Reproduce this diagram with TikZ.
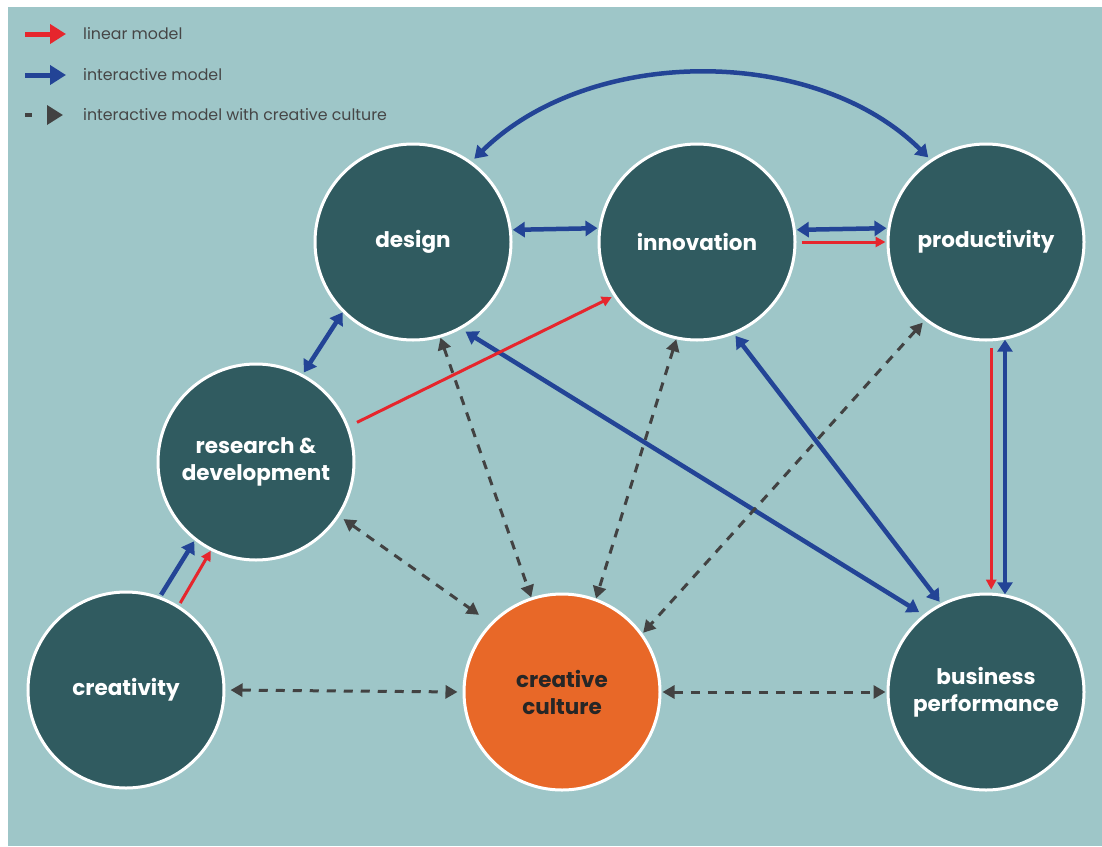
\documentclass[tikz,border=0pt]{standalone}
\usepackage{fontspec}
\setmainfont{Poppins}
\usetikzlibrary{arrows.meta}
\definecolor{bgC}{RGB}{158,198,200}
\definecolor{tealC}{RGB}{48,91,96}
\definecolor{orangeC}{RGB}{232,104,40}
\definecolor{blueC}{RGB}{35,68,150}
\definecolor{redC}{RGB}{230,38,45}
\definecolor{grayC}{RGB}{66,66,66}
\definecolor{legtxt}{RGB}{70,70,70}
\begin{document}
\begin{tikzpicture}[x=1pt,y=-1pt,
  bubble/.style={circle,fill=tealC,draw=white,line width=3pt,minimum size=196pt,inner sep=0pt,
     text=white,align=center,font=\bfseries\fontsize{21.5}{27}\selectfont},
  hotbubble/.style={bubble,fill=orangeC,text=black!85},
  bluearr/.style={draw=blueC,line width=4.5pt,{Triangle[length=12pt,width=15pt]}-{Triangle[length=12pt,width=15pt]}},
  bluearrone/.style={draw=blueC,line width=4.5pt,-{Triangle[length=12pt,width=15pt]}},
  redarr/.style={draw=redC,line width=3pt,-{Triangle[length=10pt,width=10pt]}},
  dasharr/.style={draw=grayC,line width=3pt,dash pattern=on 9pt off 8pt,
     {Triangle[length=12pt,width=13pt]}-{Triangle[length=12pt,width=13pt]}},
  legtext/.style={anchor=west,text=legtxt,font=\fontsize{15.8}{18}\selectfont,inner sep=0pt}
]
\useasboundingbox (0,0) rectangle (1102,846);
\fill[bgC] (8,7) rectangle (1102,846);

% legend
\coordinate (la1) at (25,34); \coordinate (lb1) at (66,34);
\coordinate (la2) at (25,75); \coordinate (lb2) at (66,75);
\coordinate (la3) at (25,115); \coordinate (lb3) at (63,115);
\draw[draw=redC,line width=5pt,-{Triangle[length=16pt,width=19pt]}] (la1) -- (lb1);
\draw[draw=blueC,line width=5pt,-{Triangle[length=16pt,width=19pt]}] (la2) -- (lb2);
\draw[draw=grayC,line width=3.5pt,dash pattern=on 7pt off 20pt,-{Triangle[length=16pt,width=19pt]}] (la3) -- (lb3);
\node[legtext] (t1) at (83,34) {linear model};
\node[legtext] (t2) at (83,75) {interactive model};
\node[legtext] (t3) at (83,115) {interactive model with creative culture};

% nodes
\node[bubble] (D) at (413,242) {design};
\node[bubble] (I) at (697,242) {innovation};
\node[bubble] (P) at (986,242) {productivity};
\node[bubble] (R) at (256,462) {research \&\\development};
\node[bubble] (C) at (126,690) {creativity};
\node[hotbubble] (CC) at (562,692) {creative\\culture};
\node[bubble] (B) at (986,692) {business\\performance};

% blue interactive
\draw[bluearr,shorten <=4pt,shorten >=3pt] (D.54) .. controls (590,45) and (815,45) .. (P.124);
\draw[bluearr,shorten <=1pt,shorten >=1pt] (D.7.5) -- (I.172.5);
\draw[bluearr,shorten <=1pt,shorten >=1pt] (I.7.5) -- (P.172.5);
\draw[bluearr,shorten <=2pt,shorten >=0pt] (R.62) -- (D.225);
\draw[bluearrone,shorten <=2pt,shorten >=1pt] (C.70.5) -- (R.232);
\draw[bluearr,shorten <=5pt,shorten >=5pt] (D.-61) -- (B.129);
\draw[bluearr,shorten <=2pt,shorten >=2pt] (I.-68) -- (B.117);
\draw[bluearr,shorten <=0pt,shorten >=0pt] (P.-79.3) -- (B.79.3);

% red linear
\draw[redarr,shorten <=5pt,shorten >=1pt] (I.0) -- (P.180);
\draw[redarr,shorten <=9pt,shorten >=2pt] (R.21) -- (I.213);
\draw[redarr,shorten <=3pt,shorten >=0pt] (C.58.5) -- (R.243.5);
\draw[redarr,shorten <=7pt,shorten >=3pt] (P.-87.8) -- (B.87.7);

% dashed
\draw[dasharr,shorten <=0pt,shorten >=0pt] (D.-74) -- (CC.108.8);
\draw[dasharr,shorten <=0pt,shorten >=0pt] (I.-102.7) -- (CC.70.7);
\draw[dasharr,shorten <=3pt,shorten >=1pt] (P.-128.7) -- (CC.36);
\draw[dasharr,shorten <=5pt,shorten >=14pt] (R.-33.7) -- (CC.136);
\draw[dasharr,shorten <=5pt,shorten >=5pt] (C.0) -- (CC.180);
\draw[dasharr,shorten <=1pt,shorten >=1pt] (CC.0) -- (B.180);
\end{tikzpicture}
\end{document}
